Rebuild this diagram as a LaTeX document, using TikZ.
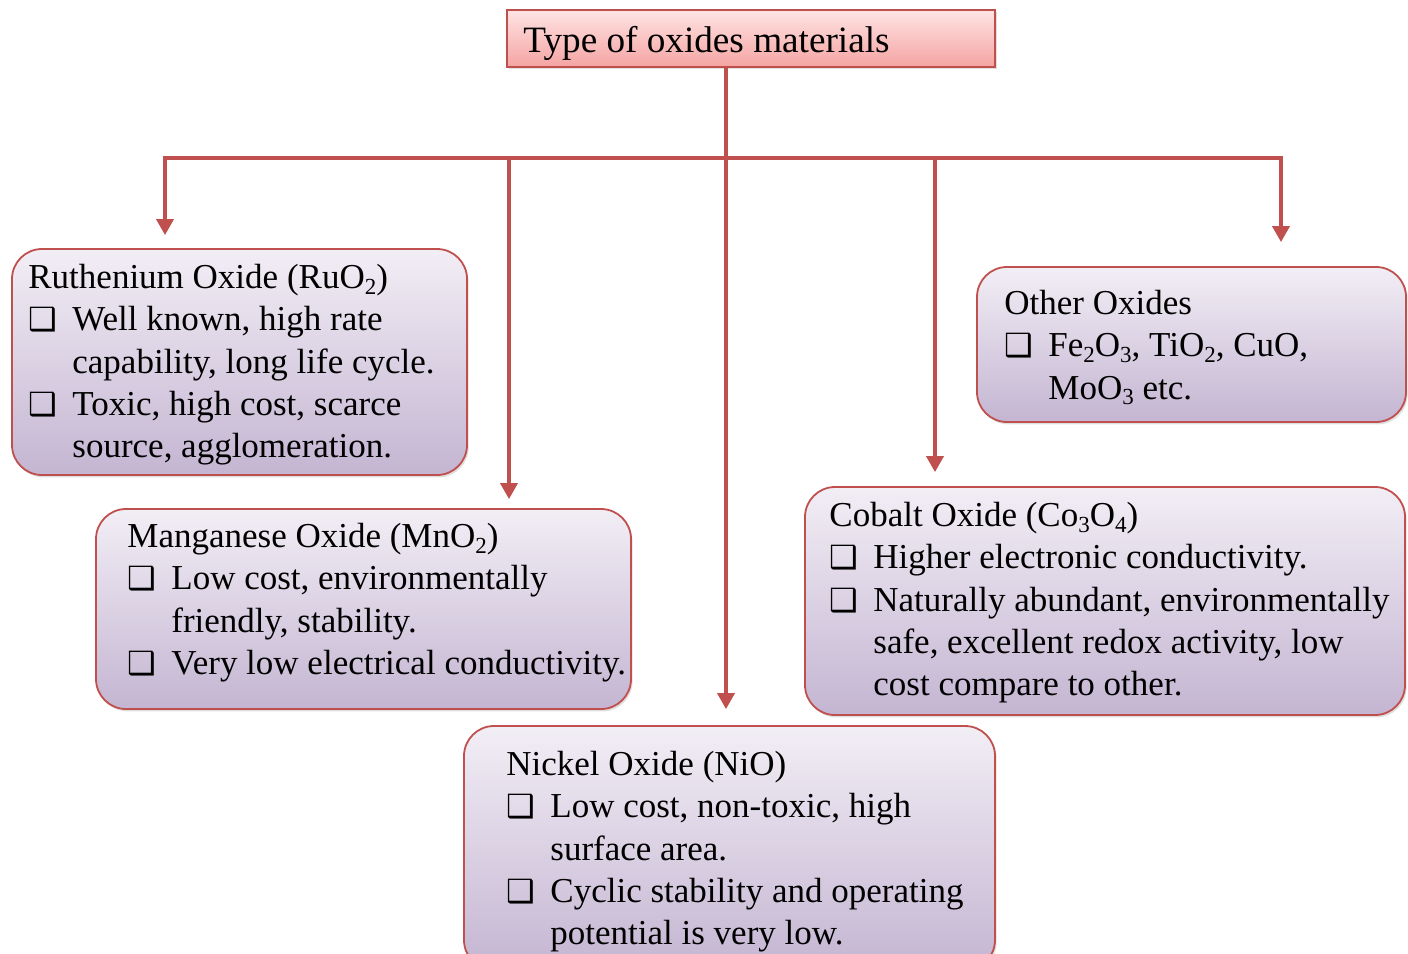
\documentclass[tikz,border=0pt]{standalone}
\usepackage{fontspec}
\setmainfont{Liberation Serif}
\newfontfamily\dv{DejaVu Sans}
\usetikzlibrary{arrows.meta,shadows,calc}
\definecolor{lc}{RGB}{192,80,77}
\definecolor{boxtop}{RGB}{242,238,245}
\definecolor{boxbot}{RGB}{196,181,210}
\definecolor{ttop}{RGB}{255,228,228}
\definecolor{tbot}{RGB}{244,164,162}
\newcommand\bul{\makebox[22pt][l]{{\dv\fontsize{16}{16}\selectfont ❑}}}
\newcommand\ind{\hspace*{22pt}}
\newcommand\fl{\rule{0pt}{12pt}}
\newcommand\sub[1]{\raisebox{-0.35ex}{\fontsize{11.5}{11.5}\selectfont #1}}
\begin{document}
\begin{tikzpicture}[x=0.5pt,y=-0.5pt,
  obox/.style={draw=lc, line width=0.9pt, rounded corners=15pt, top color=boxtop, bottom color=boxbot,
    drop shadow={opacity=0.25,shadow xshift=0.8pt,shadow yshift=-1.2pt}, inner sep=0},
  tbox/.style={draw=lc, line width=0.9pt, top color=ttop, bottom color=tbot,
    drop shadow={opacity=0.25,shadow xshift=0.8pt,shadow yshift=-1.2pt}, inner sep=0},
  txt/.style={anchor=north west, inner sep=0, align=left, font=\fontsize{17.5}{21.1}\selectfont},
  arr/.style={draw=lc, line width=1.8pt, line join=miter, -{Triangle[length=8pt,width=8.5pt]}},
  ln/.style={draw=lc, line width=1.8pt}
]
\useasboundingbox (0,0) rectangle (1408,953);

% boxes
\node[tbox, minimum width=244pt, minimum height=28.5pt] (title) at (751,38.5) {};
\node[obox, minimum width=227.5pt, minimum height=113pt] (ru) at (239.5,362) {};
\node[obox, minimum width=267.5pt, minimum height=100pt] (mn) at (363.5,609) {};
\node[obox, minimum width=265.5pt, minimum height=122pt] (ni) at (729.5,848) {};
\node[obox, minimum width=300pt, minimum height=114pt] (co) at (1105,601) {};
\node[obox, minimum width=214.5pt, minimum height=77.5pt] (oth) at (1191.5,344.5) {};

% texts
\node[txt, font=\fontsize{18.6}{22}\selectfont] (title-t) at (523,26) {\rule{0pt}{13pt}Type of oxides materials};
\node[txt] (ru-t) at (28,264) {\fl Ruthenium Oxide (RuO\sub{2})\\
\bul Well known, high rate\\
\ind capability, long life cycle.\\
\bul Toxic, high cost, scarce\\
\ind source, agglomeration.};
\node[txt] (mn-t) at (127,523) {\fl Manganese Oxide (MnO\sub{2})\\
\bul Low cost, environmentally\\
\ind friendly, stability.\\
\bul Very low electrical conductivity.};
\node[txt] (ni-t) at (506,751) {\fl Nickel Oxide (NiO)\\
\bul Low cost, non-toxic, high\\
\ind surface area.\\
\bul Cyclic stability and operating\\
\ind potential is very low.};
\node[txt] (co-t) at (829,502) {\fl Cobalt Oxide (Co\sub{3}O\sub{4})\\
\bul Higher electronic conductivity.\\
\bul Naturally abundant, environmentally\\
\ind safe, excellent redox activity, low\\
\ind cost compare to other.};
\node[txt] (oth-t) at (1004,290) {\fl Other Oxides\\
\bul Fe\sub{2}O\sub{3}, TiO\sub{2}, CuO,\\
\ind MoO\sub{3} etc.};

% connector coordinates on the bar
\coordinate (b1) at (165,158);
\coordinate (b2) at (509,158);
\coordinate (b3) at (726,158);
\coordinate (b4) at (935,158);
\coordinate (b5) at (1281,158);

\draw[arr, shorten >=6.5pt] (b3) -- (b1) -- (b1 |- ru.north);
\draw[arr, shorten >=12pt] (b3) -- (b5) -- (b5 |- oth.north);
\draw[arr, shorten >=4.5pt] (b2) -- (b2 |- mn.north);
\draw[arr, shorten >=7pt] (b4) -- (b4 |- co.north);
\draw[arr, shorten >=8pt] (title.south -| b3) -- (b3 |- ni.north);
\end{tikzpicture}
\end{document}
